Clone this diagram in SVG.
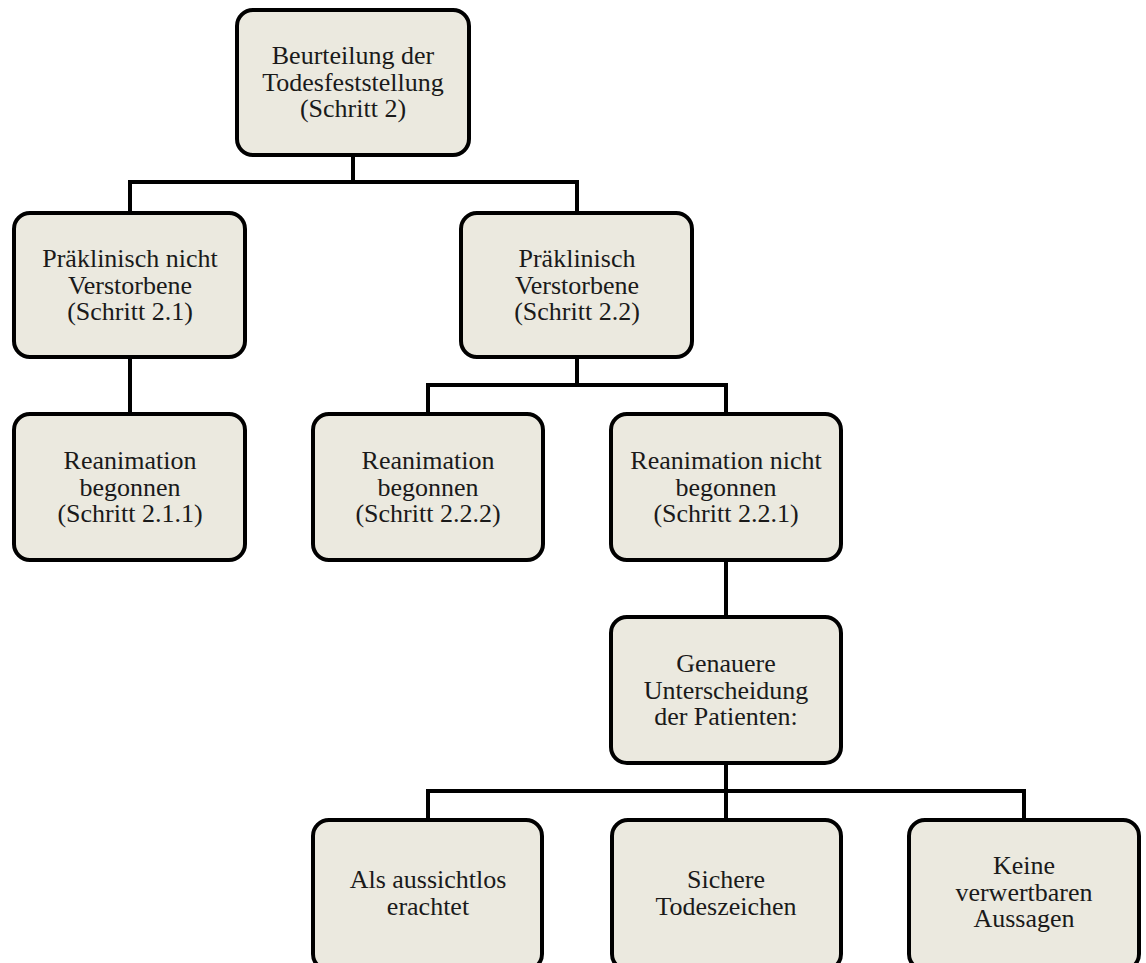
<svg xmlns="http://www.w3.org/2000/svg" width="1146" height="963" viewBox="0 0 1146 963">
<style>
.box{fill:#EBE9DF;stroke:#000;stroke-width:4}
.t{font-family:"Liberation Serif","Times New Roman",serif;font-size:26px;fill:#1a1a1a;text-anchor:middle}
.c{fill:none;stroke:#000;stroke-width:4}
</style>
<rect width="1146" height="963" fill="#fff"/>
<g id="connectors">
<path class="c" d="M353 155V182M130 213V182H577V213"/>
<path class="c" d="M130 357V414"/>
<path class="c" d="M577 357V385M428 414V385H726V414"/>
<path class="c" d="M726 560V617"/>
<path class="c" d="M726 763V820M428 820V791H1024V820"/>
</g>
<g id="n_root">
<rect class="box" x="237" y="10" width="232" height="145" rx="16"/>
<text class="t" x="353" y="64">Beurteilung der</text>
<text class="t" x="353" y="90.5">Todesfeststellung</text>
<text class="t" x="353" y="117">(Schritt 2)</text>
</g>
<g id="n_21">
<rect class="box" x="14" y="213" width="231" height="144" rx="16"/>
<text class="t" x="130" y="267">Präklinisch nicht</text>
<text class="t" x="130" y="293.5">Verstorbene</text>
<text class="t" x="130" y="320">(Schritt 2.1)</text>
</g>
<g id="n_22">
<rect class="box" x="461" y="213" width="231" height="144" rx="16"/>
<text class="t" x="577" y="267">Präklinisch</text>
<text class="t" x="577" y="293.5">Verstorbene</text>
<text class="t" x="577" y="320">(Schritt 2.2)</text>
</g>
<g id="n_211">
<rect class="box" x="14" y="414" width="231" height="146" rx="16"/>
<text class="t" x="130" y="469">Reanimation</text>
<text class="t" x="130" y="495.5">begonnen</text>
<text class="t" x="130" y="522">(Schritt 2.1.1)</text>
</g>
<g id="n_222">
<rect class="box" x="313" y="414" width="230" height="146" rx="16"/>
<text class="t" x="428" y="469">Reanimation</text>
<text class="t" x="428" y="495.5">begonnen</text>
<text class="t" x="428" y="522">(Schritt 2.2.2)</text>
</g>
<g id="n_221">
<rect class="box" x="611" y="414" width="230" height="146" rx="16"/>
<text class="t" x="726" y="469">Reanimation nicht</text>
<text class="t" x="726" y="495.5">begonnen</text>
<text class="t" x="726" y="522">(Schritt 2.2.1)</text>
</g>
<g id="n_genauere">
<rect class="box" x="611" y="617" width="230" height="146" rx="16"/>
<text class="t" x="726" y="672">Genauere</text>
<text class="t" x="726" y="698.5">Unterscheidung</text>
<text class="t" x="726" y="725">der Patienten:</text>
</g>
<g id="n_aussichtlos">
<rect class="box" x="313" y="820" width="229" height="150" rx="16"/>
<text class="t" x="428" y="887.5">Als aussichtlos</text>
<text class="t" x="428" y="914.5">erachtet</text>
</g>
<g id="n_sichere">
<rect class="box" x="612" y="820" width="229" height="150" rx="16"/>
<text class="t" x="726" y="887.5">Sichere</text>
<text class="t" x="726" y="914.5">Todeszeichen</text>
</g>
<g id="n_keine">
<rect class="box" x="909" y="820" width="230" height="150" rx="16"/>
<text class="t" x="1024" y="874">Keine</text>
<text class="t" x="1024" y="900.5">verwertbaren</text>
<text class="t" x="1024" y="927">Aussagen</text>
</g>
</svg>
